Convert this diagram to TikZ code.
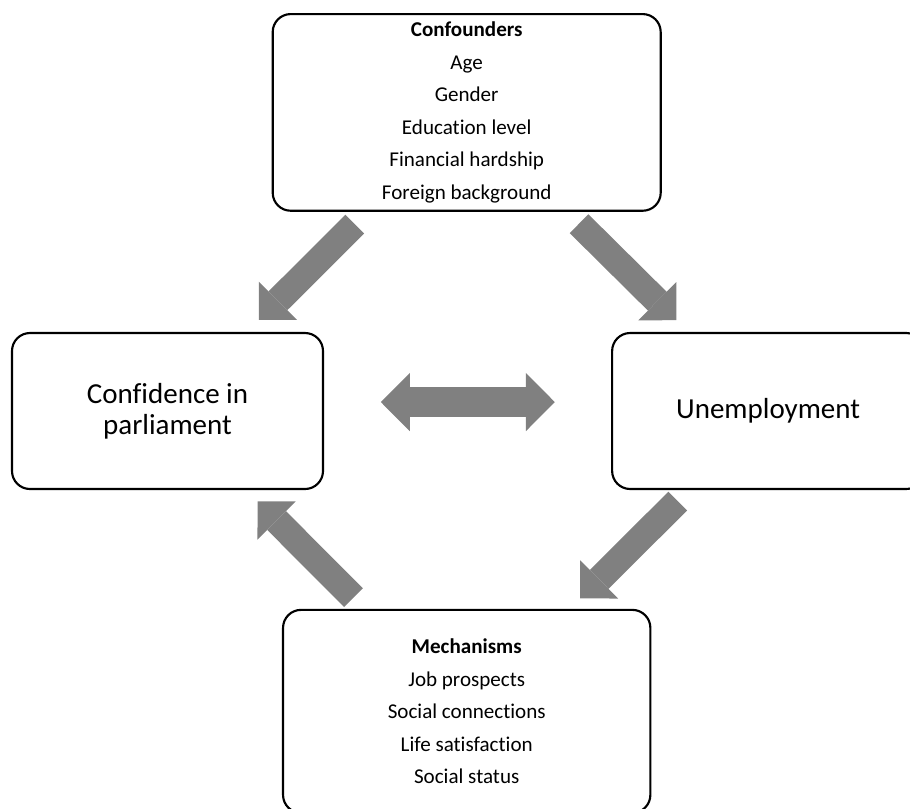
\documentclass[tikz,border=0pt]{standalone}
\usepackage{fontspec}
\setmainfont{Carlito}[Ligatures=NoCommon]
\usetikzlibrary{positioning, arrows.meta}
\definecolor{mygray}{HTML}{808080}

\begin{document}
\begin{tikzpicture}[
    x=0.75pt, y=-0.75pt,
    % -- Node styles --
    listbox/.style={
        rectangle,
        draw=black,
        fill=white,
        rounded corners=13.5pt,
        line width=1.6pt,
        align=center,
        font={\fontsize{15.8}{24.4}\selectfont}
    },
    varbox/.style={
        rectangle,
        draw=black,
        fill=white,
        rounded corners=13.5pt,
        line width=1.6pt,
        align=center,
        minimum height=117pt,
        font={\fontsize{21.75}{23.5}\selectfont}
    },
    % -- Arrow styles --
    blockarrow/.style={-{Triangle[length=20.25pt, width=40.5pt, line width=0pt]}, line width=19.9pt, draw=mygray},
    twoarrow/.style={{Triangle[length=21.75pt, width=43.7pt, line width=0pt]}-{Triangle[length=21.75pt, width=43.7pt, line width=0pt]}, line width=22.2pt, draw=mygray}
]
\useasboundingbox (0,0) rectangle (910,808);
\clip (0,0) rectangle (910,808);

% -- Top and bottom boxes --
\node[listbox, minimum width=291pt, minimum height=147.5pt] (conf) at (466.7,112.4) {\textbf{Confounders}\\Age\\Gender\\Education level\\Financial hardship\\Foreign background};

\node[listbox, minimum width=275.5pt, minimum height=152.25pt, below=297.75pt of conf] (mech) {\textbf{Mechanisms}\\Job prospects\\Social connections\\Life satisfaction\\Social status};

% -- Middle row --
\node[varbox, minimum width=233.25pt] (trust) at (167.5,411) {Confidence in\\parliament};

\node[varbox, minimum width=234pt, right=215.25pt of trust] (unemp) {Unemployment};

% -- Block arrows --
\draw[blockarrow, shorten <=118.6pt, shorten >=96.8pt] (conf.center) -- (trust.center);
\draw[blockarrow, shorten <=118.6pt, shorten >=96.8pt] (conf.center) -- (unemp.center);
\draw[blockarrow, shorten <=95.7pt, shorten >=120pt] (unemp.center) -- (mech.center);
\draw[blockarrow, shorten <=120.4pt, shorten >=95.7pt] (mech.center) -- (trust.center);
\draw[twoarrow, shorten <=160pt, shorten >=160pt] ([yshift=6.7pt]trust.center) -- ([yshift=6.7pt]unemp.center);

\end{tikzpicture}
\end{document}
